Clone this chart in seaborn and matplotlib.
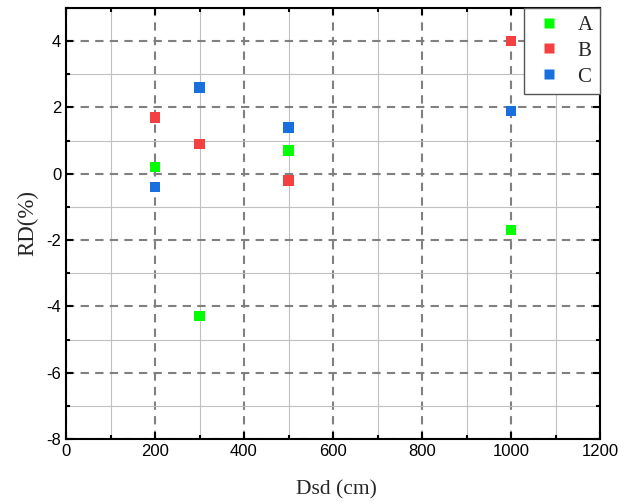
import pandas as pd
import numpy as np
import matplotlib
matplotlib.use('Agg')
import matplotlib.pyplot as plt
import seaborn as sns
from matplotlib.ticker import MultipleLocator

dsd = [200, 300, 500, 1000]
rd_a = [0.2, -4.3, 0.7, -1.7]
rd_b = [1.7, 0.9, -0.2, 4.0]
rd_c = [-0.4, 2.6, 1.4, 1.9]
groups = ['A', 'B', 'C']
colors = ['#00ff00', '#f44040', '#1a6fdf']

df = pd.DataFrame({
    'Dsd': dsd * 3,
    'RD': rd_a + rd_b + rd_c,
    'group': [g for g in groups for _ in dsd],
})

sns.set_style('white')
plt.rcParams['font.family'] = ['Liberation Sans', 'DejaVu Sans']
plt.rcParams['axes.unicode_minus'] = False

fig = plt.figure(figsize=(6.35, 5.04), dpi=100)
ax = fig.add_axes([66 / 635, 1 - 439 / 504, 534 / 635, 431 / 504])

sns.scatterplot(data=df, x='Dsd', y='RD', hue='group', palette=colors,
                marker='s', s=55, edgecolor='none', ax=ax, zorder=3)

ax.set_xlim(0, 1200)
ax.set_ylim(-8, 5)
ax.xaxis.set_major_locator(MultipleLocator(200))
ax.xaxis.set_minor_locator(MultipleLocator(100))
ax.yaxis.set_major_locator(MultipleLocator(2))
ax.yaxis.set_minor_locator(MultipleLocator(1))

ax.grid(which='major', color='#808080', linestyle=(0, (4, 3)), linewidth=1.5, zorder=1)
ax.grid(which='minor', color='#c0c0c0', linestyle='-', linewidth=0.8, zorder=0)
ax.set_axisbelow(True)

ax.tick_params(which='both', direction='in', top=True, right=True,
               bottom=True, left=True, labelsize=12, width=1.5, colors='black')
ax.tick_params(which='major', length=5)
ax.tick_params(which='minor', length=3)
for sp in ax.spines.values():
    sp.set_linewidth(1.5)
    sp.set_color('black')

ax.set_xlabel('Dsd (cm)', fontsize=15.5, family='Liberation Serif')
ax.set_ylabel('RD(%)', fontsize=16.5, family='Liberation Serif')
ax.xaxis.set_label_coords(0.507, -0.095)
ax.yaxis.set_label_coords(-0.052, 0.501)

leg = ax.legend(loc='upper right', prop={'family': 'Liberation Serif', 'size': 15},
                frameon=True, fancybox=False, framealpha=1, borderaxespad=0,
                borderpad=0.35, handlelength=1.7, handletextpad=0.54,
                markerscale=0.9, labelspacing=0.3)
leg.get_frame().set_edgecolor('#555555')
leg.get_frame().set_linewidth(1.0)
leg.set_zorder(5)

fig.savefig('out.png', dpi=100)
